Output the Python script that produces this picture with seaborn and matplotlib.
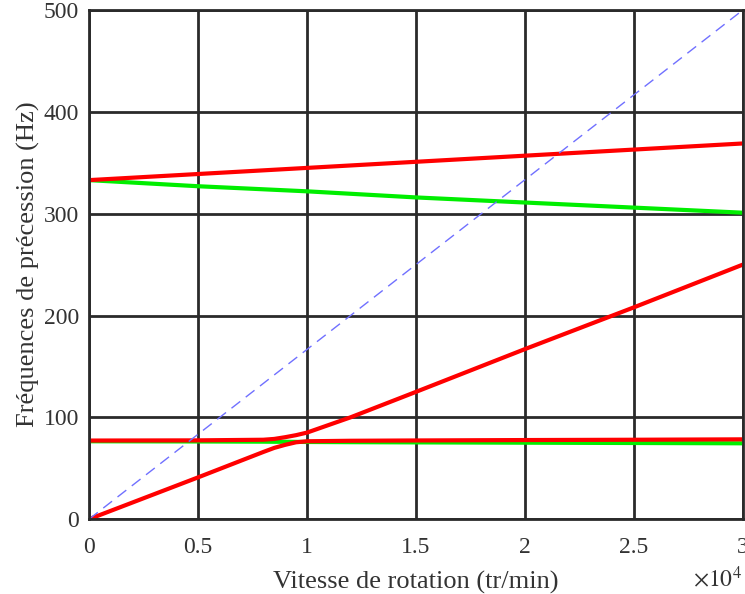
import matplotlib
matplotlib.use('Agg')
import matplotlib.pyplot as plt
import pandas as pd
import seaborn as sns

# speeds in tr/min, frequencies in Hz
speed = [0, 5000, 10000, 15000, 20000, 25000, 30000]
upper_forward = [333, 339, 345, 351, 357, 363, 369]
upper_backward = [333, 327, 322, 316, 311, 306, 301]

low_speed = [0, 5000, 8000, 8500, 9000, 9500, 10000, 12000, 15000, 20000, 25000, 30000]
low_forward_a = [0, 41, 66, 70, 73, 75.5, 76.5, 77, 77.3, 77.7, 78, 78.4]
low_forward_b = [77.2, 77.4, 78, 78.8, 80.5, 82.5, 85, 100, 125, 167, 208, 250]
low_backward = [76.5, 76.3, 76.1, 76, 76, 75.9, 75.8, 75.6, 75.4, 75.1, 74.8, 74.5]

sync_speed = [0, 30000]
sync_freq = [0, 500]

sns.set_style('white')
plt.rcParams['font.family'] = ['Liberation Serif', 'DejaVu Serif']
plt.rcParams['mathtext.fontset'] = 'stix'

fig = plt.figure(figsize=(7.45, 5.94), dpi=100)
ax = fig.add_axes([0.1195, 0.126, 0.8775, 0.857])

red = '#ff0000'
green = '#00ee00'

df_up = pd.DataFrame({'speed': speed, 'fw': upper_forward, 'bw': upper_backward})
df_low = pd.DataFrame({'speed': low_speed, 'a': low_forward_a, 'b': low_forward_b, 'bw': low_backward})

sns.lineplot(data=df_low, x='speed', y='bw', ax=ax, color=green, linewidth=3, sort=False)
sns.lineplot(data=df_low, x='speed', y='a', ax=ax, color=red, linewidth=3, sort=False)
sns.lineplot(data=df_low, x='speed', y='b', ax=ax, color=red, linewidth=3, sort=False)
sns.lineplot(data=df_up, x='speed', y='bw', ax=ax, color=green, linewidth=3, sort=False)
sns.lineplot(data=df_up, x='speed', y='fw', ax=ax, color=red, linewidth=3, sort=False)
sns.lineplot(x=sync_speed, y=sync_freq, ax=ax, color='#7070ff', linewidth=1,
             linestyle=(0, (8, 5)), sort=False)

ax.set_xlim(0, 30000)
ax.set_ylim(0, 500)
ax.set_xticks([0, 5000, 10000, 15000, 20000, 25000, 30000])
ax.set_xticklabels(['0', '0.5', '1', '1.5', '2', '2.5', '3'])
ax.set_yticks([0, 100, 200, 300, 400, 500])
ax.grid(True, color='#2a2a2a', linewidth=2)
ax.set_axisbelow(True)
for s in ax.spines.values():
    s.set_color('#2a2a2a')
    s.set_linewidth(2)
ax.tick_params(axis='both', length=0, labelsize=17, colors='#333333')
ax.tick_params(axis='x', pad=13)
ax.tick_params(axis='y', pad=7)

ax.set_xlabel('Vitesse de rotation (tr/min)', fontsize=19, color='#333333', labelpad=9)
ax.set_ylabel('Fréquences de précession (Hz)', fontsize=19, color='#333333', labelpad=3)
fig.text(0.996, 0.004, r'$\times10^{4}$', ha='right', va='bottom', fontsize=17, color='#333333')

fig.savefig('out.png', dpi=100)
